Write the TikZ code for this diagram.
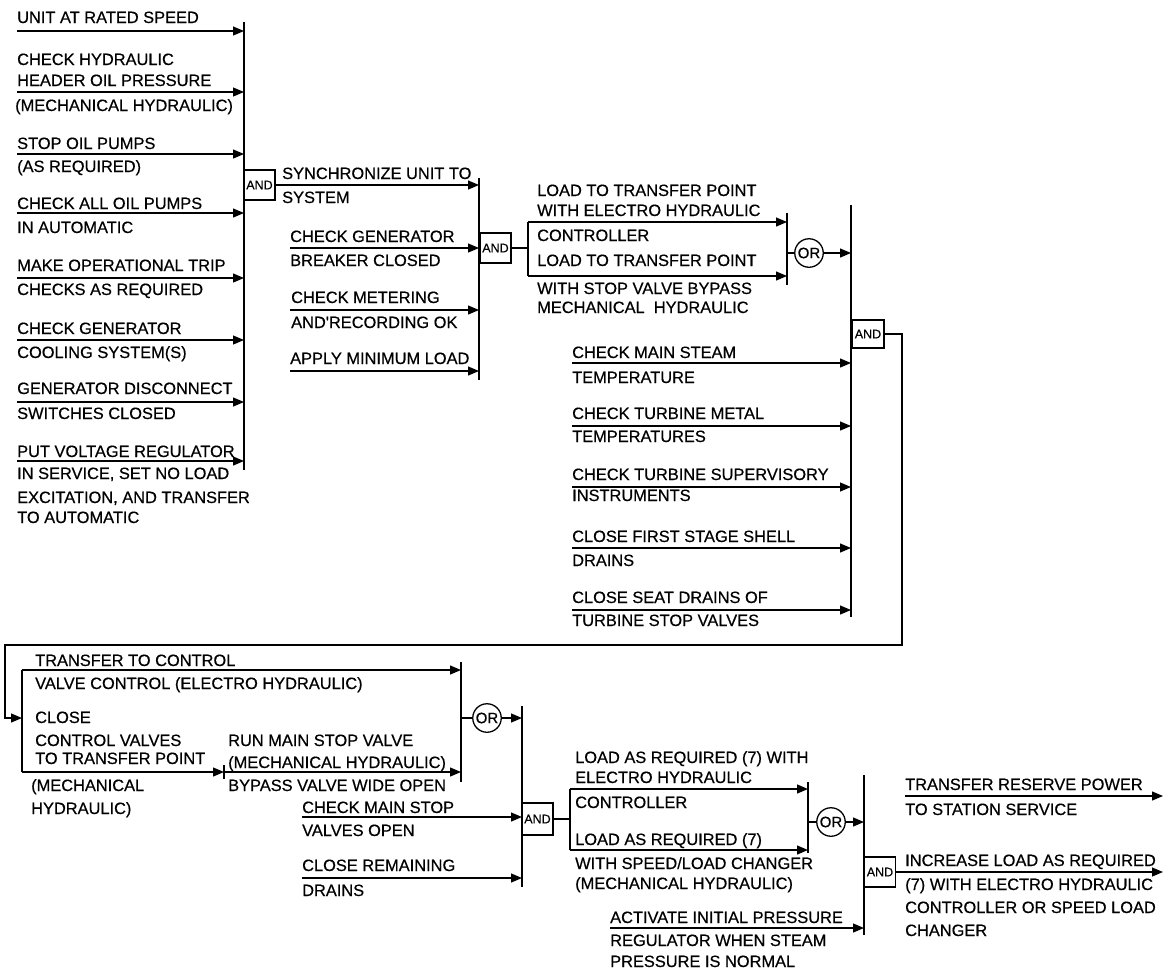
\documentclass[tikz,border=0pt]{standalone}
\usepackage{fontspec}
\setmainfont{Liberation Sans}
\newfontfamily\printfont{Liberation Sans}[FakeBold=0.5]
\usetikzlibrary{arrows.meta}
\begin{document}
\begin{tikzpicture}[x=1pt,y=-1pt,
  wire/.style={line width=1.2pt},
  feed/.style={wire,-{Triangle[length=11pt,width=9pt]}},
  bar/.style={line width=1.4pt},
  lbl/.style={anchor=base west,inner sep=0pt,font=\printfont\fontsize{16.4pt}{19pt}\selectfont},
  andgate/.style={draw,line width=1.2pt,minimum width=31pt,minimum height=30pt,inner sep=0pt,font=\printfont\fontsize{12.5pt}{13pt}\selectfont},
  orgate/.style={draw,circle,line width=1.3pt,minimum size=28.5pt,inner sep=0pt,font=\printfont\fontsize{15pt}{16pt}\selectfont}]
\useasboundingbox (0,0) rectangle (1167,970);

% ---------- first group: start-up checks ----------
\coordinate (b1t) at (244,22); \coordinate (b1b) at (244,470);
\draw[bar] (b1t) -- (b1b);

\coordinate (i1) at (17,31);  \draw[feed] (i1) -- (i1 -| b1t);
\coordinate (i2) at (17,92);  \draw[feed] (i2) -- (i2 -| b1t);
\coordinate (i3) at (17,154); \draw[feed] (i3) -- (i3 -| b1t);
\coordinate (i4) at (17,213); \draw[feed] (i4) -- (i4 -| b1t);
\coordinate (i5) at (17,278); \draw[feed] (i5) -- (i5 -| b1t);
\coordinate (i6) at (17,340); \draw[feed] (i6) -- (i6 -| b1t);
\coordinate (i7) at (17,402); \draw[feed] (i7) -- (i7 -| b1t);
\coordinate (i8) at (17,461); \draw[feed] (i8) -- (i8 -| b1t);

\node[lbl] (t1a) at (17,23) {UNIT AT RATED SPEED};
\node[lbl] (t2a) at (17,65) {CHECK HYDRAULIC};
\node[lbl] (t2b) at (17,86) {HEADER OIL PRESSURE};
\node[lbl] (t2c) at (15,111) {(MECHANICAL HYDRAULIC)};
\node[lbl] (t3a) at (17,149) {STOP OIL PUMPS};
\node[lbl] (t3b) at (17,172) {(AS REQUIRED)};
\node[lbl] (t4a) at (17,209) {CHECK ALL OIL PUMPS};
\node[lbl] (t4b) at (17,233) {IN AUTOMATIC};
\node[lbl] (t5a) at (17,271) {MAKE OPERATIONAL TRIP};
\node[lbl] (t5b) at (17,295) {CHECKS AS REQUIRED};
\node[lbl] (t6a) at (17,334) {CHECK GENERATOR};
\node[lbl] (t6b) at (17,358) {COOLING SYSTEM(S)};
\node[lbl] (t7a) at (17,394) {GENERATOR DISCONNECT};
\node[lbl] (t7b) at (17,419) {SWITCHES CLOSED};
\node[lbl] (t8a) at (17,457) {PUT VOLTAGE REGULATOR};
\node[lbl] (t8b) at (17,479) {IN SERVICE, SET NO LOAD};
\node[lbl] (t8c) at (17,503) {EXCITATION, AND TRANSFER};
\node[lbl] (t8d) at (17,523) {TO AUTOMATIC};

\node[andgate] (g1) at (259.5,185) {AND};

% ---------- second group: synchronizing ----------
\coordinate (b2t) at (479,178); \coordinate (b2b) at (479,380);
\draw[bar] (b2t) -- (b2b);
\draw[feed] (g1.east) -- (g1.east -| b2t);
\node[lbl] (t9a) at (282,179) {SYNCHRONIZE UNIT TO};
\node[lbl] (t9b) at (282,203) {SYSTEM};

\coordinate (i10) at (290,248); \draw[feed] (i10) -- (i10 -| b2t);
\coordinate (i11) at (290,310); \draw[feed] (i11) -- (i11 -| b2t);
\coordinate (i12) at (290,371); \draw[feed] (i12) -- (i12 -| b2t);
\node[lbl] (t10a) at (290,242) {CHECK GENERATOR};
\node[lbl] (t10b) at (290,266) {BREAKER CLOSED};
\node[lbl] (t11a) at (291,303) {CHECK METERING};
\node[lbl] (t11b) at (291,328) {AND'RECORDING OK};
\node[lbl] (t12a) at (290,364) {APPLY MINIMUM LOAD};

\node[andgate] (g2) at (495.5,248) {AND};

% ---------- loading to transfer point ----------
\coordinate (k1t) at (528,222); \coordinate (k1b) at (528,276);
\draw[wire] (g2.east) -- (g2.east -| k1t);
\draw[wire] (k1t) -- (k1b);
\coordinate (b3t) at (787,213); \coordinate (b3b) at (787,285);
\draw[bar] (b3t) -- (b3b);
\draw[feed] (k1t) -- (k1t -| b3t);
\draw[feed] (k1b) -- (k1b -| b3t);
\node[lbl] (t13a) at (537,196) {LOAD TO TRANSFER POINT};
\node[lbl] (t13b) at (537,216) {WITH ELECTRO HYDRAULIC};
\node[lbl] (t13c) at (537,241) {CONTROLLER};
\node[lbl] (t14a) at (537,266) {LOAD TO TRANSFER POINT};
\node[lbl] (t14b) at (537,294) {WITH STOP VALVE BYPASS};
\node[lbl] (t14c) at (537,313) {MECHANICAL\ \ HYDRAULIC};

\node[orgate] (o1) at (809,253) {OR};
\draw[wire] (o1.west -| b3t) -- (o1.west);

% ---------- turbine checks ----------
\coordinate (b4t) at (851,205); \coordinate (b4b) at (851,617);
\draw[bar] (b4t) -- (b4b);
\draw[feed] (o1.east) -- (o1.east -| b4t);

\coordinate (i13) at (572,363); \draw[feed] (i13) -- (i13 -| b4t);
\coordinate (i14) at (572,426); \draw[feed] (i14) -- (i14 -| b4t);
\coordinate (i15) at (572,487); \draw[feed] (i15) -- (i15 -| b4t);
\coordinate (i16) at (572,548); \draw[feed] (i16) -- (i16 -| b4t);
\coordinate (i17) at (572,610); \draw[feed] (i17) -- (i17 -| b4t);
\node[lbl] (t15a) at (572,358) {CHECK MAIN STEAM};
\node[lbl] (t15b) at (572,383) {TEMPERATURE};
\node[lbl] (t16a) at (572,419) {CHECK TURBINE METAL};
\node[lbl] (t16b) at (572,442) {TEMPERATURES};
\node[lbl] (t17a) at (572,480) {CHECK TURBINE SUPERVISORY};
\node[lbl] (t17b) at (572,501) {INSTRUMENTS};
\node[lbl] (t18a) at (572,542) {CLOSE FIRST STAGE SHELL};
\node[lbl] (t18b) at (572,566) {DRAINS};
\node[lbl] (t19a) at (572,603) {CLOSE SEAT DRAINS OF};
\node[lbl] (t19b) at (572,626) {TURBINE STOP VALVES};

\node[andgate,minimum width=32pt,minimum height=28pt] (g3) at (868,334) {AND};

% ---------- return path to the valve transfer ----------
\coordinate (r1) at (902,645); \coordinate (r2) at (5,645);
\coordinate (k2t) at (22,670); \coordinate (k2m) at (22,718); \coordinate (k2b) at (22,772);
\draw[feed] (g3.east) -- (g3.east -| r1) -- (r1) -- (r2) -- (r2 |- k2m) -- (k2m);
\draw[wire] (k2t) -- (k2b);

\coordinate (b5t) at (461,662); \coordinate (b5b) at (461,782);
\draw[bar] (b5t) -- (b5b);
\draw[feed] (k2t) -- (k2t -| b5t);
\coordinate (tkt) at (224,765); \coordinate (tkb) at (224,779);
\draw[wire] (tkt) -- (tkb);
\draw[feed] (k2b) -- (k2b -| tkt);
\coordinate (i18) at (224,772); \draw[feed] (i18) -- (i18 -| b5t);

\node[lbl] (t20a) at (35,666) {TRANSFER TO CONTROL};
\node[lbl] (t20b) at (35,689) {VALVE CONTROL (ELECTRO HYDRAULIC)};
\node[lbl] (t21a) at (35,723) {CLOSE};
\node[lbl] (t21b) at (35,746) {CONTROL VALVES};
\node[lbl] (t21c) at (35,764) {TO TRANSFER POINT};
\node[lbl] (t21d) at (31,791) {(MECHANICAL};
\node[lbl] (t21e) at (31,814) {HYDRAULIC)};
\node[lbl] (t22a) at (228,746) {RUN MAIN STOP VALVE};
\node[lbl] (t22b) at (228,768) {(MECHANICAL HYDRAULIC)};
\node[lbl] (t22c) at (228,791) {BYPASS VALVE WIDE OPEN};

\node[orgate] (o2) at (487,718) {OR};
\draw[wire] (o2.west -| b5t) -- (o2.west);

% ---------- stop valves open ----------
\coordinate (b6t) at (522,706); \coordinate (b6b) at (522,887);
\draw[bar] (b6t) -- (b6b);
\draw[feed] (o2.east) -- (o2.east -| b6t);
\coordinate (i19) at (302,817); \draw[feed] (i19) -- (i19 -| b6t);
\coordinate (i20) at (302,878); \draw[feed] (i20) -- (i20 -| b6t);
\node[lbl] (t23a) at (302,813) {CHECK MAIN STOP};
\node[lbl] (t23b) at (302,836) {VALVES OPEN};
\node[lbl] (t24a) at (302,871) {CLOSE REMAINING};
\node[lbl] (t24b) at (302,896) {DRAINS};

\node[andgate,minimum height=32pt] (g4) at (537.5,819) {AND};

% ---------- loading ----------
\coordinate (k3t) at (570,789); \coordinate (k3b) at (570,850);
\draw[wire] (g4.east) -- (g4.east -| k3t);
\draw[wire] (k3t) -- (k3b);
\coordinate (b7t) at (808,782); \coordinate (b7b) at (808,853);
\draw[bar] (b7t) -- (b7b);
\draw[feed] (k3t) -- (k3t -| b7t);
\draw[feed] (k3b) -- (k3b -| b7t);
\node[lbl] (t25a) at (575,763) {LOAD AS REQUIRED (7) WITH};
\node[lbl] (t25b) at (575,783) {ELECTRO HYDRAULIC};
\node[lbl] (t25c) at (575,808) {CONTROLLER};
\node[lbl] (t26a) at (575,845) {LOAD AS REQUIRED (7)};
\node[lbl] (t26b) at (575,869) {WITH SPEED/LOAD CHANGER};
\node[lbl] (t26c) at (575,889) {(MECHANICAL HYDRAULIC)};

\node[orgate] (o3) at (831,822) {OR};
\draw[wire] (o3.west -| b7t) -- (o3.west);

% ---------- final steps ----------
\coordinate (b8t) at (864,775); \coordinate (b8b) at (864,935);
\draw[bar] (b8t) -- (b8b);
\draw[feed] (o3.east) -- (o3.east -| b8t);
\coordinate (i21) at (610,928); \draw[feed] (i21) -- (i21 -| b8t);
\node[lbl] (t27a) at (610,923) {ACTIVATE INITIAL PRESSURE};
\node[lbl] (t27b) at (610,946) {REGULATOR WHEN STEAM};
\node[lbl] (t27c) at (610,967) {PRESSURE IS NORMAL};

\node[andgate] (g5) at (880,872) {AND};

\coordinate (i22) at (905,796); \coordinate (e1) at (1163,796);
\draw[feed] (i22) -- (e1);
\coordinate (e2) at (1163,872);
\draw[feed] (g5.east) -- (e2);
\node[lbl] (t28a) at (905,790) {TRANSFER RESERVE POWER};
\node[lbl] (t28b) at (905,815) {TO STATION SERVICE};
\node[lbl] (t29a) at (905,866) {INCREASE LOAD AS REQUIRED};
\node[lbl] (t29b) at (905,890) {(7) WITH ELECTRO HYDRAULIC};
\node[lbl] (t29c) at (905,913) {CONTROLLER OR SPEED LOAD};
\node[lbl] (t29d) at (905,936) {CHANGER};
\end{tikzpicture}
\end{document}
